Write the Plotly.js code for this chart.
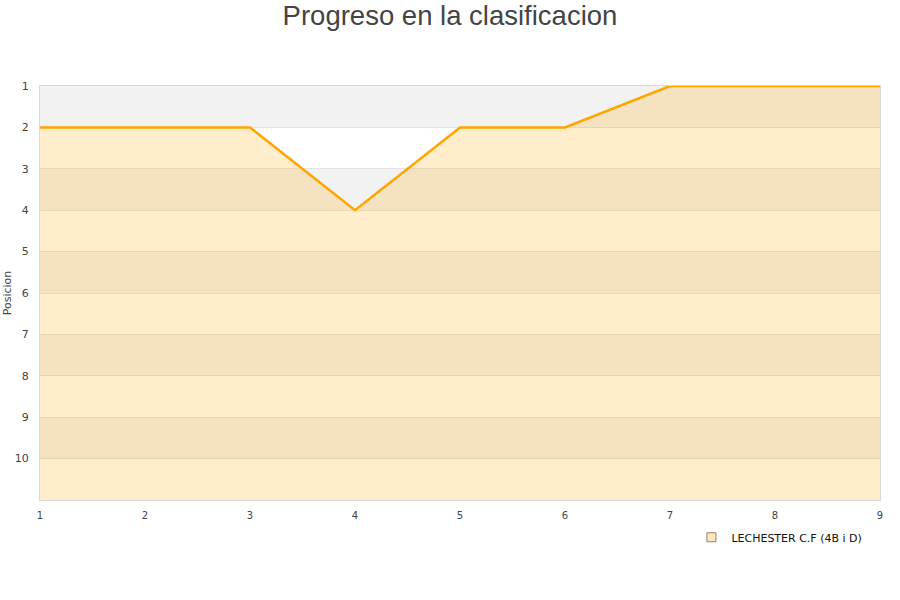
<!DOCTYPE html>
<html>
<head>
<meta charset="utf-8">
<script src="https://cdn.plot.ly/plotly-3.0.1.min.js"></script>
<style>html,body{margin:0;padding:0;background:#fff}#chart{width:900px;height:600px}</style>
</head>
<body>
<div id="chart"></div>
<script>
const jornadas = [1, 2, 3, 4, 5, 6, 7, 8, 9];
const posiciones = [2, 2, 2, 4, 2, 2, 1, 1, 1];
const yTicks = [1, 2, 3, 4, 5, 6, 7, 8, 9, 10];
const teamName = 'LECHESTER C.F (4B i D)';
const yBottom = 11;

const fillX = jornadas.concat([jornadas[jornadas.length - 1], jornadas[0]]);
const fillY = posiciones.concat([yBottom, yBottom]);

const bands = [];
for (let v = 1; v <= 10; v += 2) {
  bands.push({type: 'rect', xref: 'paper', yref: 'y', x0: 0, x1: 1, y0: v, y1: v + 1,
    fillcolor: '#f2f2f2', line: {width: 0}, layer: 'below'});
}

const traces = [
  {x: fillX, y: fillY, type: 'scatter', mode: 'none', fill: 'toself',
   fillcolor: 'rgba(255,165,0,0.2)', hoverinfo: 'skip', showlegend: false},
  {x: jornadas, y: posiciones, type: 'scatter', mode: 'lines',
   line: {color: '#ffa500', width: 2.5}, showlegend: false},
  {x: [null], y: [null], type: 'scatter', mode: 'markers', name: teamName,
   marker: {symbol: 'square', size: 9, color: '#fbe6c2', line: {color: '#a08060', width: 1}}}
];

const layout = {
  width: 900, height: 600,
  paper_bgcolor: '#fff', plot_bgcolor: '#fff',
  margin: {l: 40, r: 20, t: 86, b: 100},
  font: {family: 'DejaVu Sans, sans-serif', color: '#444'},
  title: {text: 'Progreso en la clasificacion', x: 0.5, xanchor: 'center', y: 0.99, yanchor: 'top',
    font: {family: 'Liberation Sans, Arial, sans-serif', size: 27.5, color: '#444'}},
  xaxis: {range: [1, 9], tickvals: jornadas, ticktext: jornadas.map(String), showgrid: false, zeroline: false,
    showline: true, linecolor: '#d9d9d9', mirror: true, ticks: '', tickfont: {size: 10, color: '#444'},
    ticklabelstandoff: 6},
  yaxis: {range: [yBottom, 1], tickvals: yTicks, ticktext: yTicks.map(String), showgrid: true,
    gridcolor: 'rgba(200,200,200,0.45)', zeroline: false, showline: true, linecolor: '#d9d9d9', mirror: true,
    ticks: '', tickfont: {size: 11, color: '#444'}, ticklabelstandoff: 8,
    title: {text: 'Posicion', font: {size: 11, color: '#444'}, standoff: 0}},
  shapes: bands,
  showlegend: true,
  legend: {orientation: 'h', x: 0.985, xanchor: 'right', y: -0.055, yanchor: 'top',
    font: {size: 11, color: '#111'}, bgcolor: 'rgba(0,0,0,0)'}
};

Plotly.newPlot('chart', traces, layout, {displayModeBar: false, staticPlot: true});
</script>
</body>
</html>
